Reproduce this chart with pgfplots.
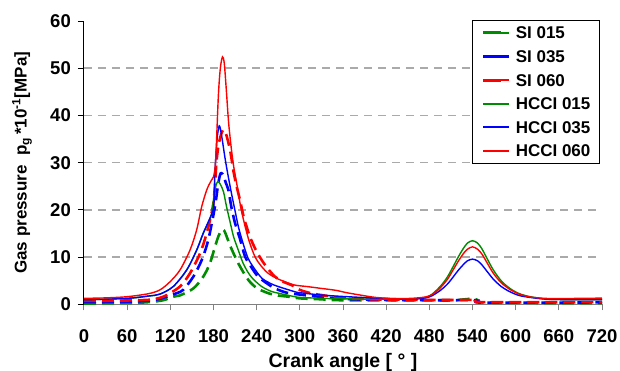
\documentclass[border=0pt]{standalone}
\usepackage{fontspec}
\setmainfont{Liberation Sans}
\usepackage{pgfplots}
\pgfplotsset{compat=1.18}
\definecolor{cg}{RGB}{0,140,0}
\definecolor{cb}{RGB}{0,0,255}
\definecolor{cr}{RGB}{255,0,0}
\definecolor{gridgray}{RGB}{170,170,170}
\begin{document}
\begin{tikzpicture}
\begin{axis}[
 width=518pt, height=283.5pt, scale only axis,
 xmin=0, xmax=720, ymin=0, ymax=60,
 xtick={0,60,...,720}, ytick={0,10,...,50},
 ymajorgrids=true,
 extra y ticks={60},
 extra y tick style={grid=none},
 axis x line*=bottom, axis y line*=left,
 x axis line style={-, draw=gray, line width=1pt},
 y axis line style={-, draw=black, line width=1pt},
 tick align=outside,
 major tick length=6pt,
 xtick style={draw=gray, line width=1pt},
 ytick style={draw=black, line width=1pt},
 grid style={draw=gridgray, line width=1.5pt, dash pattern=on 8pt off 6pt},
 /pgf/number format/assume math mode=true,
 ticklabel style={font=\fontsize{18.5}{20}\selectfont\bfseries},
 xticklabel style={anchor=base, yshift=-32.3pt},
 yticklabel style={anchor=east, inner sep=0pt, xshift=-7pt},
 xlabel={Crank angle [ ° ]},
 xlabel style={at={(axis description cs:0.5,-0.2205)}, anchor=base, font=\fontsize{19.5}{21}\selectfont\bfseries},
 ylabel={Gas pressure\ \ p\textsubscript{g}\,*10\textsuperscript{-1}[MPa]},
 ylabel style={at={(axis description cs:-0.1197,0.5)}, anchor=center, font=\fontsize{17}{19}\selectfont\bfseries},
 no markers,
 legend style={at={(rel axis cs:0.996,1.004)}, anchor=north east, draw=black, line width=1pt, fill=white,
   font=\fontsize{17}{19}\selectfont\bfseries, inner xsep=9pt, inner ysep=6.4pt, row sep=11.4pt, column sep=5pt,
   nodes={inner sep=0pt, text height=12.2pt, text depth=0pt}},
 legend cell align=left,
]
% SI 015
\addplot[cg, line width=2.6pt, dash pattern=on 12pt off 6pt, smooth,
 legend image code/.code={\path (0pt,0pt) -- (26pt,0pt); \draw[draw=cg, solid, line width=3pt] (0pt,0pt) -- (18pt,0pt);}]
 coordinates {(0,0.2)(60,0.3)(90,0.5)(110,0.9)(124,1.65)(133,1.9)(152,3.4)(165.8,5.9)(175,8.7)(182,12.2)(187,14.5)(191.5,15.8)(195,15.6)(198,14.5)(203,12.5)(210,10.1)(217,8.0)(228.4,5.2)(240,3.5)(256,2.4)(270,1.9)(284,1.65)(300,1.3)(330,1.1)(360,0.9)(500,0.9)(530,1.1)(540,1.3)(548,0.9)(560,0.4)(720,0.3)};
\addlegendentry{SI 015}
% SI 035
\addplot[cb, line width=2.6pt, dash pattern=on 12pt off 6pt, smooth,
 legend image code/.code={\path (0pt,0pt) -- (26pt,0pt); \draw[draw=cb, solid, line width=3pt] (0pt,0pt) -- (18pt,0pt);}]
 coordinates {(0,0.5)(60,0.6)(90,0.8)(105,1.2)(115,1.65)(128.8,2.4)(138,3.1)(152,5.9)(163.6,9.4)(172.8,13.7)(182,20.7)(186,25)(189,27.4)(191,27.8)(194,27.3)(197,25.8)(200.6,24.3)(205,20.5)(210,17.2)(217,13.8)(224,10.1)(233,7.8)(242,5.9)(254,4.5)(265.5,3.4)(281.7,2.5)(300,2.1)(330,1.6)(360,1.2)(400,1.0)(500,0.9)(545,0.9)(555,0.4)(720,0.45)};
\addlegendentry{SI 035}
% SI 060
\addplot[cr, line width=2.6pt, dash pattern=on 12pt off 6pt, smooth,
 legend image code/.code={\path (0pt,0pt) -- (26pt,0pt); \draw[draw=cr, solid, line width=3pt] (0pt,0pt) -- (18pt,0pt);}]
 coordinates {(0,0.8)(30,0.8)(60,0.85)(90,1.0)(105,1.4)(115,2.0)(133.4,3.8)(147.3,6.6)(161.2,10.8)(170.5,15.1)(179.8,21.4)(184.4,30.6)(188,34.5)(193,36.9)(197,36.3)(203,32.7)(208,28)(212.3,24.9)(216.8,22.1)(222,18.5)(226,16.5)(230.7,14.3)(238,11.8)(247,9.4)(256,7.5)(265.5,5.9)(277,4.8)(288.6,4.1)(300,3.1)(315,2.4)(330,2.0)(360,1.4)(400,1.1)(450,1.0)(500,0.95)(545,0.95)(555,0.5)(720,0.5)};
\addlegendentry{SI 060}
% HCCI 015
\addplot[cg, line width=1.4pt, smooth,
 legend image code/.code={\draw[draw=cg, solid, line width=1.7pt] (0pt,0pt) -- (26pt,0pt);}]
 coordinates {(0,1.0)(60,1.3)(90,1.8)(105.6,2.2)(124,3.8)(142.7,7.3)(156.6,11.5)(165.8,15.1)(176.8,18.9)(181,23.5)(184,25.5)(186.7,26)(190,25.3)(194,23.8)(198,20.8)(203,17.5)(208,14.3)(214.5,11.5)(221,8.8)(228,6.8)(235,5.4)(247,3.8)(260,2.8)(270,2.4)(293,1.65)(300,1.5)(330,1.3)(360,1.2)(420,1.1)(460,1.2)(480,1.8)(495,3.8)(505,5.8)(513,8.0)(520,10.0)(527,11.8)(533,13.0)(540,13.5)(547,13.0)(553,11.8)(560,9.8)(569,7.3)(580,5.0)(592,3.4)(605,2.3)(620,1.65)(640,1.2)(660,1.05)(720,1.0)};
\addlegendentry{HCCI 015}
% HCCI 035
\addplot[cb, line width=1.4pt, smooth,
 legend image code/.code={\draw[draw=cb, solid, line width=1.7pt] (0pt,0pt) -- (26pt,0pt);}]
 coordinates {(0,1.0)(60,1.3)(90,1.8)(105.6,2.2)(124,3.8)(142.7,7.3)(156.6,11.5)(165.8,15.1)(176.8,18.9)(180.5,21)(182,28)(185,35)(188,37.8)(191,36)(196,31)(200,27.5)(205,23.5)(210,19.8)(215,16.2)(222,12.5)(228,9.8)(235,8.0)(247,5.6)(260,4.4)(270,3.8)(293,2.7)(300,2.5)(330,2.0)(360,1.7)(400,1.4)(440,1.2)(460,1.15)(480,1.6)(495,2.95)(505,4.3)(513,5.8)(520,7.2)(527,8.4)(533,9.25)(540,9.6)(547,9.25)(553,8.4)(560,7.05)(569,5.35)(580,3.8)(592,2.7)(605,1.9)(620,1.5)(640,1.15)(660,1.05)(720,1.0)};
\addlegendentry{HCCI 035}
% HCCI 060
\addplot[cr, line width=1.4pt, smooth,
 legend image code/.code={\draw[draw=cr, solid, line width=1.7pt] (0pt,0pt) -- (26pt,0pt);}]
 coordinates {(0,1.3)(30,1.4)(60,1.65)(90,2.3)(105.6,3.1)(119.5,4.8)(133.4,7.3)(147.3,11.5)(156.6,15.8)(163.6,20.7)(170.5,24.2)(176,26)(180,27)(183,30.5)(186.7,44)(189.5,50)(192.5,52.4)(195,51)(198,45)(201,38.5)(205,32.7)(208.5,28.8)(212.3,25.6)(218,20.5)(224,16.5)(230,13.2)(237.7,10.1)(246,8.2)(256,6.6)(267,5.6)(279.4,4.8)(293.3,4.1)(310,3.8)(330,3.4)(350,3.0)(365,2.5)(384,2.0)(405,1.5)(430,1.25)(455,1.3)(475,1.6)(485,2.2)(495,3.5)(505,5.3)(513,7.3)(520,9.1)(527,10.7)(533,11.7)(540,12.2)(547,11.7)(553,10.7)(560,8.9)(569,6.6)(580,4.6)(592,3.2)(605,2.2)(620,1.6)(640,1.3)(660,1.25)(720,1.35)};
\addlegendentry{HCCI 060}
\end{axis}
\pgfresetboundingbox
\path ([shift={(-84pt,-66.5pt)}]current axis.south west) rectangle ([shift={(18pt,21pt)}]current axis.north east);
\end{tikzpicture}
\end{document}
